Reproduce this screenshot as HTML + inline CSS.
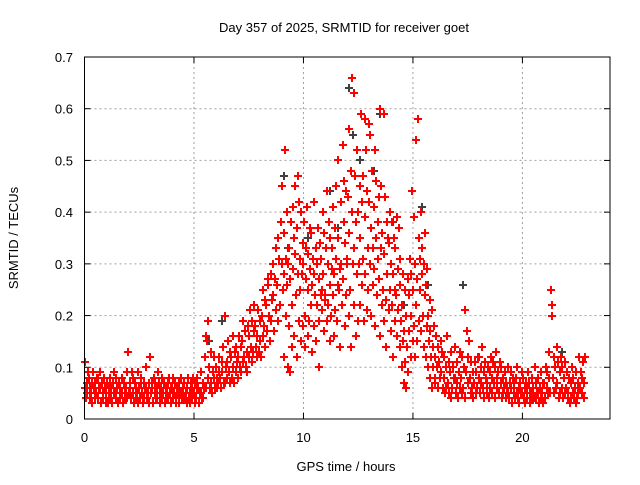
<!DOCTYPE html>
<html><head><meta charset="utf-8"><style>
body{margin:0;background:#fff}
svg text{font-family:"Liberation Sans",sans-serif;font-size:13px;fill:#000}
</style></head><body>
<svg id="chart" width="640" height="480" xmlns="http://www.w3.org/2000/svg">
<text x="344" y="32" text-anchor="middle">Day 357 of 2025, SRMTID for receiver goet</text>
<text transform="translate(18,238) rotate(-90)" text-anchor="middle">SRMTID / TECUs</text>
<text x="346" y="471" text-anchor="middle">GPS time / hours</text>
<g id="grid"></g>
<g id="black"></g>
<g id="red"></g>
<g id="axes"></g>
</svg>
<script>
const xTicks=[0,5,10,15,20];
const yTicks=[0,0.1,0.2,0.3,0.4,0.5,0.6,0.7];
const yTickLabels=["0","0.1","0.2","0.3","0.4","0.5","0.6","0.7"];
const slotStart=0, slotStep=0.1;
const redVals=[
[.06,.11,.04],[.07,.05,.09],[.08,.04,.06],[.05,.07,.03],[.09,.06,.04],[.07,.05,.08],[.04,.08,.06],[.06,.09,.03],[.07,.04,.05],[.08,.06,.03],
[.05,.07,.03],[.06,.04,.08],[.04,.06,.03],[.07,.05,.09],[.05,.08,.04],[.06,.03,.07],[.04,.06,.05],[.05,.08,.03],[.07,.04,.06],[.06,.09,.04],
[.13,.05,.07],[.06,.04,.09],[.05,.08,.03],[.07,.04,.06],[.05,.09,.03],[.06,.04,.07],[.08,.05,.03],[.04,.07,.06],[.06,.10,.04],[.05,.07,.03],
[.12,.05,.07],[.06,.03,.08],[.05,.07,.04],[.04,.06,.09],[.07,.05,.03],[.06,.04,.08],[.05,.07,.03],[.04,.06,.05],[.07,.04,.08],[.05,.06,.03],
[.06,.04,.08],[.05,.07,.03],[.04,.06,.05],[.07,.03,.05],[.05,.08,.04],[.06,.04,.07],[.04,.05,.03],[.06,.08,.04],[.05,.03,.07],[.06,.04,.08],
[.05,.03,.07],[.04,.06,.08],[.06,.03,.05],[.05,.09,.04],[.07,.04,.06],[.12,.06,.16],[.15,.08,.19],[.10,.06,.13],[.07,.05,.09],[.08,.12,.06],
[.10,.06,.08],[.07,.12,.09],[.08,.06,.11],[.09,.14,.07],[.07,.20,.10],[.11,.08,.15],[.09,.13,.07],[.12,.08,.16],[.10,.07,.13],[.14,.09,.11],
[.12,.08,.16],[.10,.14,.09],[.15,.11,.19],[.12,.17,.10],[.13,.09,.18],[.16,.12,.21],[.14,.19,.11],[.13,.17,.22],[.18,.14,.12],[.16,.21,.13],
[.15,.19,.12],[.20,.16,.25],[.18,.23,.14],[.22,.17,.27],[.26,.20,.15],[.28,.19,.23],[.24,.30,.17],[.27,.21,.33],[.26,.35,.19],[.31,.22,.38],
[.30,.45,.25,.12],[.36,.28,.52,.20],[.31,.26,.40,.10],[.30,.33,.18,.09],[.27,.38,.22,.14],[.41,.29,.35,.16],[.32,.45,.24,.12],[.37,.28,.47,.19],[.42,.31,.25,.15],[.40,.28,.34,.18],
[.30,.38,.20,.14],[.27,.33,.41,.16],[.25,.32,.19,.37],[.29,.22,.36,.13],[.26,.31,.18,.42],[.28,.24,.33,.15],[.22,.30,.37,.10],[.27,.19,.34,.24],[.31,.25,.21,.40],[.28,.36,.17,.23],
[.24,.33,.19,.44],[.30,.22,.38,.15],[.26,.35,.20,.29],[.33,.24,.41,.16],[.28,.37,.21,.45],[.31,.19,.50,.26],[.35,.25,.29,.14],[.30,.42,.22,.53],[.27,.38,.46,.18],[.34,.24,.44,.31],
[.30,.43,.20,.56],[.36,.25,.48,.14],[.66,.40,.30,.63],[.33,.22,.47,.16],[.38,.28,.52,.19],[.40,.30,.22,.45],[.35,.59,.26,.42],[.31,.47,.19,.58],[.39,.28,.52,.21],[.44,.33,.25,.57],
[.42,.30,.55,.20],[.37,.48,.26,.33],[.41,.29,.52,.18],[.35,.46,.24,.31],[.38,.27,.43,.16],[.60,.33,.45,.22],[.36,.25,.59,.19],[.32,.43,.23,.14],[.38,.28,.35,.21],[.34,.25,.40,.17],
[.30,.38,.22,.12],[.28,.35,.19,.25],[.33,.24,.16,.39],[.29,.21,.37,.14],[.26,.31,.19,.10],[.22,.28,.15,.07],[.17,.25,.11,.06],[.20,.14,.27,.09],[.24,.17,.31,.12],[.28,.20,.44,.15],
[.25,.39,.18,.12],[.30,.54,.22,.15],[.27,.58,.35,.19],[.31,.25,.40,.17],[.28,.33,.20,.14],[.30,.24,.36,.12],[.26,.18,.29,.10],[.20,.15,.23,.08],[.17,.12,.21,.06],[.14,.10,.18,.07],
[.12,.08,.16],[.10,.14,.06],[.11,.08,.15],[.09,.13,.06],[.08,.12,.05],[.10,.06,.16],[.07,.11,.05],[.09,.13,.04],[.06,.10,.08],[.08,.14,.05],
[.07,.11,.04],[.09,.06,.13],[.08,.12,.05],[.06,.10,.04],[.21,.09,.17],[.12,.07,.15],[.08,.05,.11],[.06,.09,.04],[.07,.11,.05],[.09,.06,.12],
[.08,.12,.05],[.10,.07,.14],[.06,.09,.04],[.11,.08,.05],[.07,.10,.04],[.09,.06,.12],[.05,.08,.11],[.07,.04,.10],[.13,.08,.06],[.09,.05,.11],
[.07,.10,.04],[.05,.08,.06],[.09,.04,.07],[.06,.10,.05],[.04,.07,.09],[.06,.03,.08],[.05,.07,.04],[.08,.05,.10],[.04,.06,.03],[.07,.05,.09],
[.05,.08,.04],[.06,.03,.07],[.04,.06,.09],[.07,.05,.03],[.05,.08,.04],[.06,.04,.10],[.04,.07,.05],[.08,.05,.03],[.06,.09,.04],[.05,.07,.03],
[.07,.04,.10],[.06,.09,.05],[.13,.08,.05],[.25,.22,.20],[.08,.12,.05],[.10,.06,.14],[.07,.11,.04],[.09,.05,.12],[.06,.10,.04],[.08,.05,.11],
[.06,.09,.04],[.05,.08,.03],[.07,.04,.10],[.05,.08,.04],[.06,.03,.09],[.04,.07,.05],[.12,.06,.09],[.08,.05,.11],[.07,.04,.12]
];
const blackT=[5.7,6.3,9.1,9.3,10.2,11.2,11.6,12.1,12.2,12.25,12.6,13.2,13.5,14.1,14.6,15.4,15.7,17.3,21.6,21.8];
const blackV=[0.15,0.19,0.47,0.33,0.35,0.44,0.37,0.64,0.66,0.55,0.50,0.48,0.59,0.38,0.22,0.41,0.26,0.26,0.14,0.13];

const X0=84.5,X1=610,Y0=419,Y1=57;
const xs=h=>X0+(h/24)*(X1-X0);
const ys=v=>Y0-(v/0.7)*(Y0-Y1);
const NS="http://www.w3.org/2000/svg";
function mk(tag,attrs,parent){const e=document.createElementNS(NS,tag);for(const k in attrs)e.setAttribute(k,attrs[k]);parent.appendChild(e);return e;}
const grid=document.getElementById('grid'),axes=document.getElementById('axes');
xTicks.forEach(t=>{const x=xs(t);
 if(t>0){const g=mk('line',{x1:x,x2:x,y1:Y0,y2:Y1,stroke:'#a0a0a0','stroke-dasharray':'2,3'},grid);}
 mk('line',{x1:x,x2:x,y1:Y0,y2:Y0-6,stroke:'#000'},axes);mk('line',{x1:x,x2:x,y1:Y1,y2:Y1+6,stroke:'#000'},axes);
 const l=mk('text',{x:x,y:Y0+23,'text-anchor':'middle'},axes);l.textContent=t;
 
 });
yTicks.forEach((t,i)=>{const y=ys(t);
 if(i>0&&i<yTicks.length-1){const g=mk('line',{x1:X0,x2:X1,y1:y,y2:y,stroke:'#a0a0a0','stroke-dasharray':'2,3'},grid);}
 mk('line',{x1:X0,x2:X0+6,y1:y,y2:y,stroke:'#000'},axes);mk('line',{x1:X1,x2:X1-6,y1:y,y2:y,stroke:'#000'},axes);
 const l=mk('text',{x:73,y:y+5,'text-anchor':'end'},axes);l.textContent=yTickLabels[i];
 
 });
const fr=mk('rect',{x:X0,y:Y1,width:X1-X0,height:Y0-Y1,fill:'none',stroke:'#000'},axes);


function plus(g,h,v,c){const x=Math.round(xs(h)),y=Math.round(ys(v));
 const p=mk('path',{d:`M${x-4} ${y}H${x+4}M${x} ${y-4}V${y+4}`,stroke:c,'stroke-width':2,fill:'none'},g);
 
 }
const bg=document.getElementById('black');
blackT.forEach((t,i)=>plus(bg,t,blackV[i],'#404040'));
const rg=document.getElementById('red');
redVals.forEach((arr,s)=>arr.forEach((v,j)=>plus(rg,slotStart+s*slotStep+j*0.03,v,'#ff0000')));
</script>
</body></html>
